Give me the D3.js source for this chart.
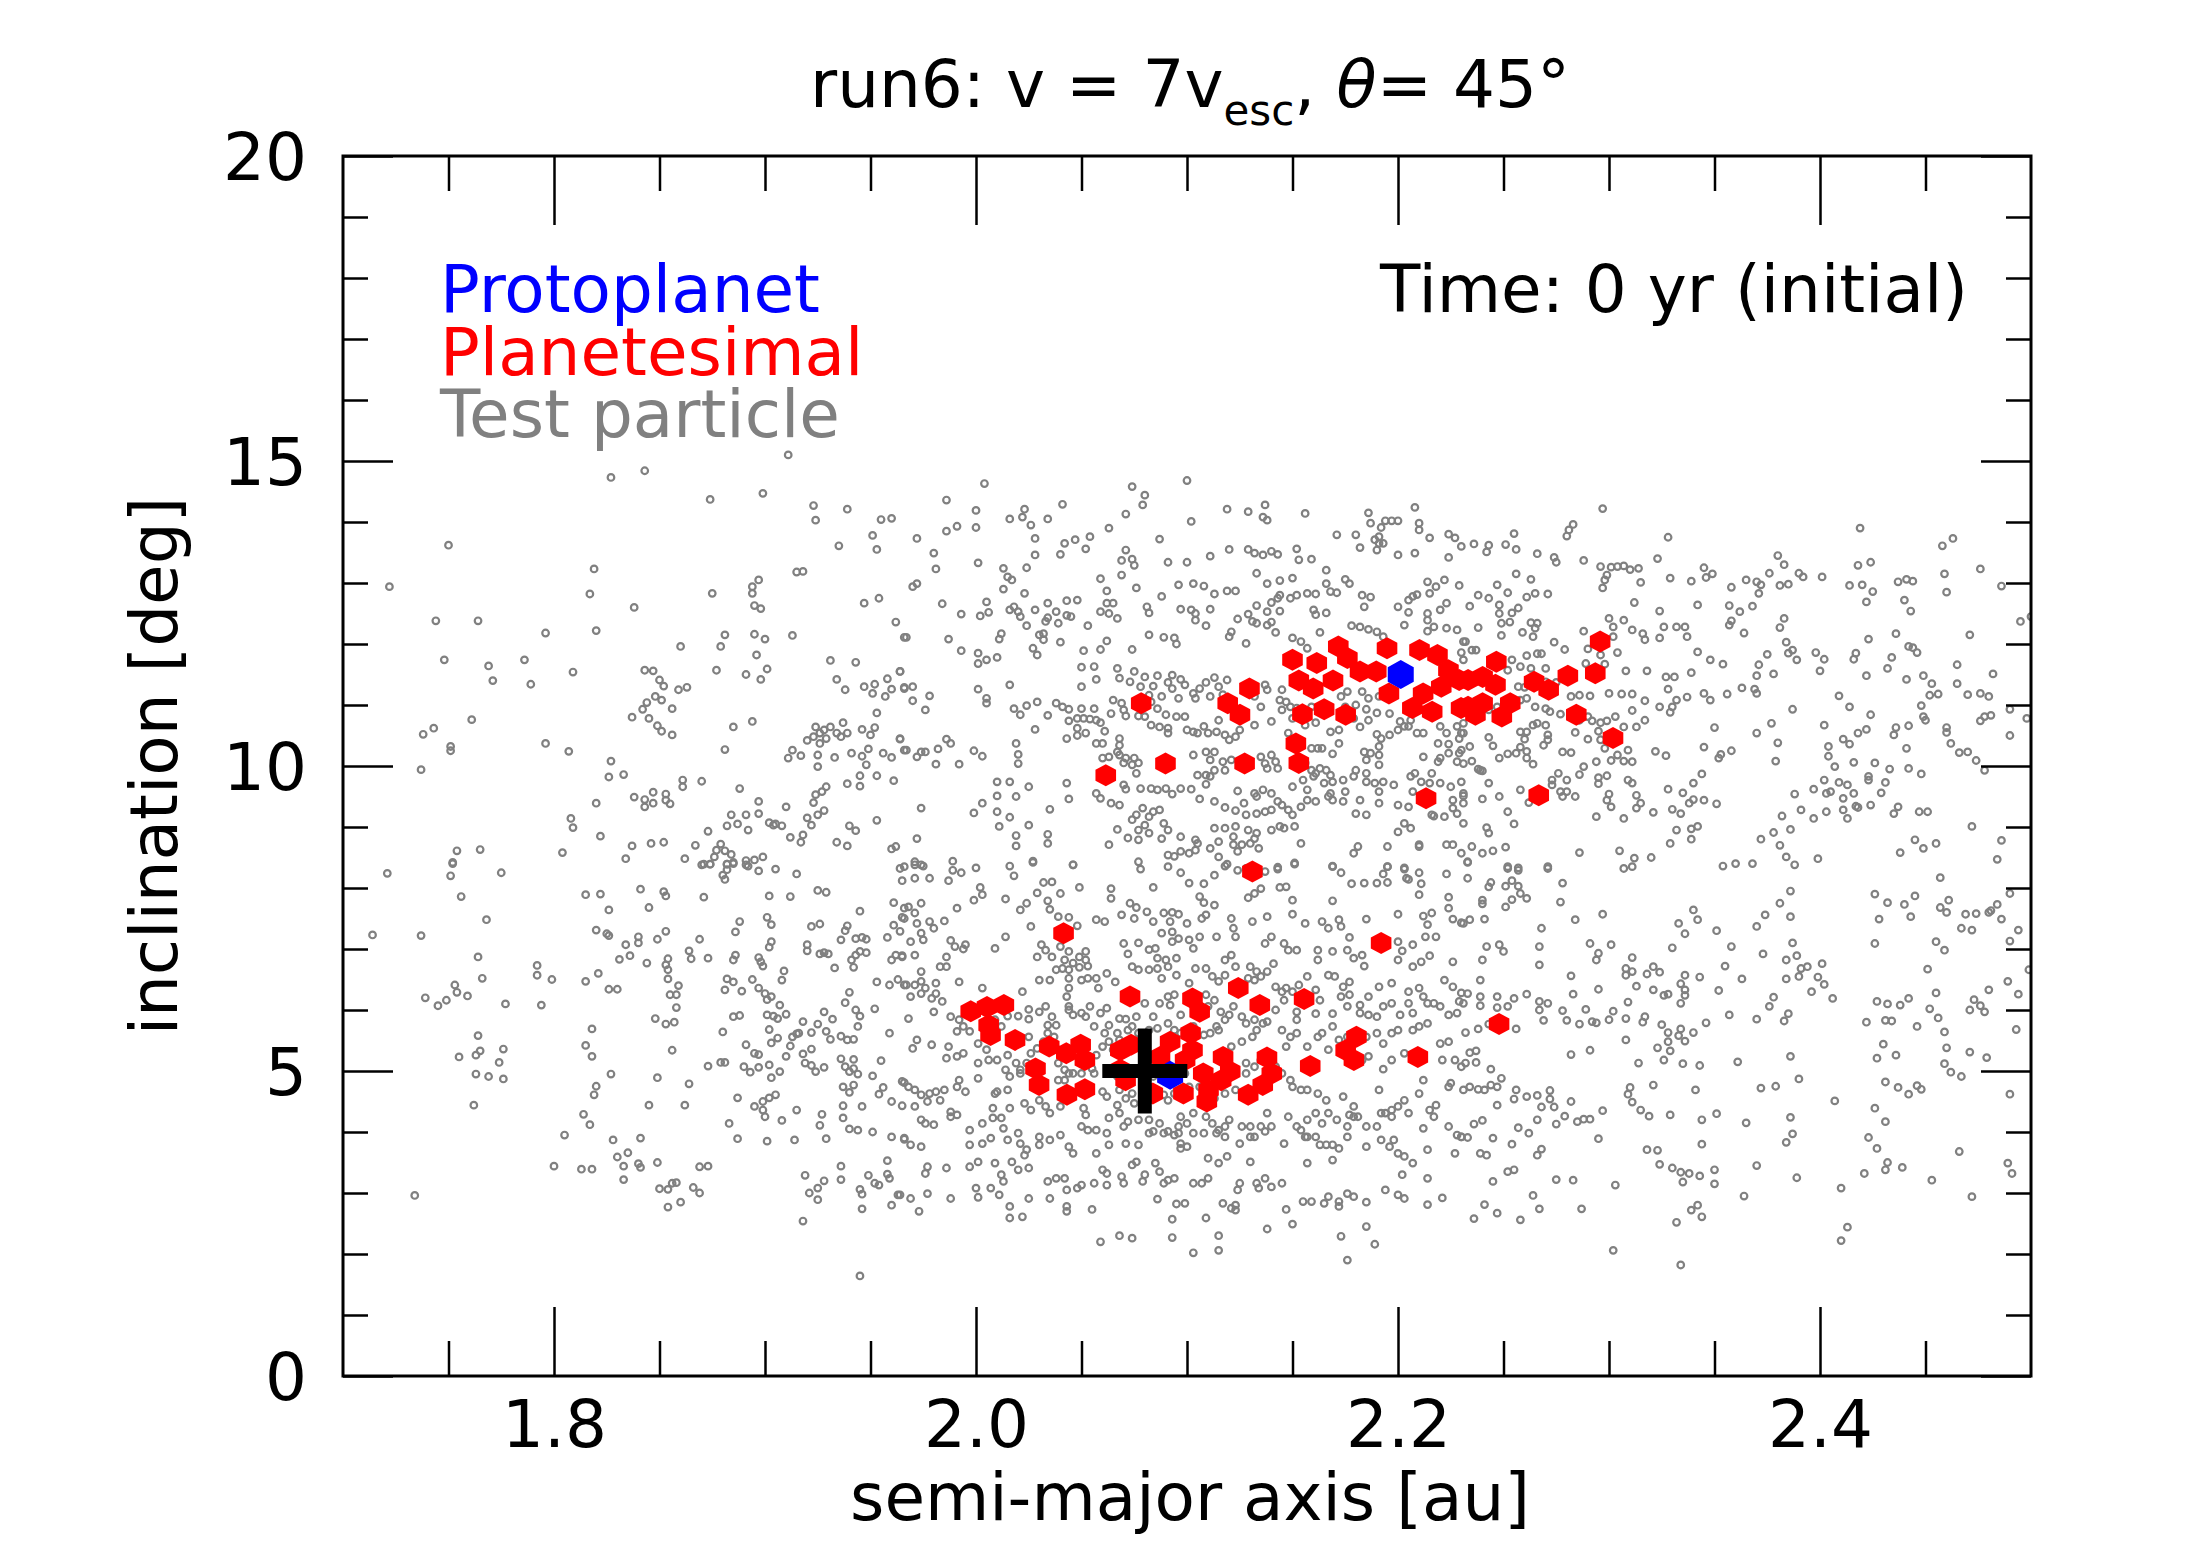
<!DOCTYPE html>
<html lang="en">
<head>
<meta charset="UTF-8">
<title>run6 inclination vs semi-major axis</title>
<script src="https://d3js.org/d3.v7.min.js"></script>
<style>
  body { margin: 0; background: #fff; }
  svg text { font-family: "DejaVu Sans", sans-serif; }
</style>
</head>
<body>
<svg id="chart" width="2188" height="1563"></svg>
<script>
// ---- data: [semi-major axis (au), inclination (deg)] ----
const xMajorTicks = [1.8, 2.0, 2.2, 2.4];
const yMajorTicks = [0, 5, 10, 15, 20];

const protoplanets = [[2.2013, 11.50], [2.092, 4.93]];
const impactPoint = [2.08, 5.0];

const planetesimals = [
  [2.0783,11.03],[2.1296,11.27],[2.1193,11.03],[2.1251,10.84],[2.150,11.74],[2.1615,11.69],[2.153,11.40],[2.1598,11.27],
  [2.1692,11.40],[2.1717,11.96],[2.176,11.77],[2.182,11.55],[2.1897,11.55],[2.1948,11.93],[2.1957,11.19],[2.2102,11.90],
  [2.2187,11.82],[2.2239,11.57],[2.2119,11.19],[2.2205,11.30],[2.2068,10.95],[2.2162,10.89],[2.2299,10.95],[2.229,11.41],
  [2.1547,10.85],[2.165,10.93],[2.1752,10.84],[2.1516,10.37],[2.153,10.05],[2.0615,9.85],[2.0898,10.04],[2.1273,10.04],
  [2.2133,9.47],[2.131,8.27],
  [2.2958,12.04],[2.2466,11.71],[2.2332,11.41],[2.2401,11.46],[2.2462,11.33],[2.2332,10.97],[2.2401,11.03],[2.2367,10.84],
  [2.2532,11.03],[2.2492,10.81],[2.2645,11.38],[2.2714,11.25],[2.2805,11.48],[2.2935,11.52],[2.2845,10.84],[2.3019,10.46],
  [2.2667,9.52],
  [2.0415,7.26],[2.192,7.10],[1.9975,5.98],[2.0052,6.05],[2.0132,6.08],[2.006,5.75],[2.0069,5.59],[2.0185,5.51],
  [2.0282,5.04],[2.0299,4.77],[2.0347,5.40],[2.0428,5.29],[2.0496,5.43],[2.0516,5.18],[2.0431,4.61],[2.0516,4.70],
  [2.073,6.22],[2.0684,5.34],[2.0735,5.43],[2.0684,5.02],[2.0709,4.85],[2.0872,5.23],[2.092,5.48],[2.0838,4.63],
  [2.1026,6.19],[2.106,5.97],[2.1017,5.62],[2.1026,5.34],[2.0991,5.18],[2.0983,4.63],[2.1077,4.96],[2.1102,4.69],
  [2.1094,4.50],[2.1171,5.23],[2.1205,4.99],[2.1162,4.85],[2.1243,6.36],[2.1345,6.08],[2.1379,5.22],[2.1402,4.96],
  [2.1359,4.77],[2.129,4.61],[2.1555,6.18],[2.1584,5.08],[2.1803,5.56],[2.1752,5.34],[2.1791,5.18],[2.2094,5.23],
  [2.2479,5.77]
];

const tpUpperLeft = [
  [1.911,15.10],[1.827,14.73],[1.843,14.84],[1.874,14.37],[1.899,14.47],[1.923,14.27],[1.939,14.21],[1.924,14.03],[1.955,14.04],[1.960,14.06],
  [1.750,13.62],[1.951,13.78],[1.935,13.61],[1.953,13.55],[1.819,13.23],[1.915,13.18],[1.918,13.19],[1.722,12.94],[1.897,13.05],[1.894,12.94],
  [1.894,12.83],[1.875,12.83],[1.817,12.82],[1.895,12.63],[1.898,12.58],[1.947,12.67],[1.954,12.75],[1.838,12.60],[1.744,12.38],[1.764,12.38],
  [1.796,12.18],[1.820,12.22],[1.962,12.36],[1.881,12.15],[1.895,12.16],[1.900,12.08],[1.913,12.14],[1.966,12.11],[1.860,11.96],[1.879,11.96],
  [1.896,11.82],[1.748,11.74],[1.769,11.64],[1.786,11.74],[1.931,11.73],[1.943,11.70],[1.771,11.40],[1.789,11.34],[1.809,11.54],[1.843,11.57],
  [1.847,11.56],[1.850,11.41],[1.852,11.31],[1.859,11.25],[1.863,11.29],[1.877,11.57],[1.891,11.50],[1.901,11.59],[1.898,11.42],[1.934,11.42],
  [1.938,11.25],[1.947,11.30],[1.952,11.34],[1.951,11.19],[1.958,11.43],[1.964,11.55],[1.960,11.26],[1.957,11.14],[1.966,11.27],[1.761,10.76],
  [1.738,10.52],[1.743,10.62],[1.751,10.32],[1.751,10.25],[1.796,10.37],[1.807,10.24],[1.837,10.80],[1.842,10.93],[1.844,11.04],[1.848,11.14],
  [1.851,11.08],[1.856,10.94],[1.845,10.78],[1.849,10.66],[1.851,10.57],[1.856,10.51],[1.885,10.64],[1.894,10.73],[1.881,10.27],[1.953,10.87],
  [1.924,10.64],[1.928,10.59],[1.931,10.64],[1.937,10.71],[1.923,10.48],[1.926,10.54],[1.929,10.45],[1.934,10.54],[1.936,10.48],[1.939,10.54],
  [1.920,10.42],[1.926,10.37],[1.946,10.60],[1.952,10.63],[1.950,10.51],[1.964,10.44],[1.966,10.26],[1.913,10.26],[1.911,10.13],[1.917,10.17],
  [1.925,10.18],[1.925,9.99],[1.933,10.14],[1.941,10.21],[1.946,10.16],[1.949,10.28],[1.948,10.02],[1.956,10.21],[1.960,10.14],[1.737,9.94],
  [1.827,10.08],[1.826,9.82],[1.833,9.86],[1.861,9.77],[1.861,9.66],[1.870,9.75],[1.888,9.63],[1.945,9.84],[1.945,9.67],[1.953,9.84],
  [1.961,9.76],[1.939,9.71],[1.929,9.66],[1.927,9.58],[1.924,9.53],[1.923,9.40],[1.838,9.49],[1.843,9.45],[1.847,9.57],[1.843,9.33],
  [1.847,9.39],[1.853,9.54],[1.853,9.44],[1.855,9.38],[1.820,9.39],[1.897,9.42],[1.897,9.22],[1.910,9.33],[1.928,9.27],[1.925,9.20],
  [1.920,9.15],[1.922,9.03],[1.953,9.11],[1.940,9.02],[1.943,8.94],[1.808,9.14],[1.809,8.99],[1.822,8.85],[1.873,8.93],[1.882,9.02],
  [1.887,9.05],[1.891,9.20],[1.884,9.20],[1.892,8.95],[1.902,9.07],[1.904,9.03],[1.905,9.05],[1.908,9.02],[1.912,8.83],[1.918,8.87],
  [1.917,8.75],[1.934,8.75],[1.939,8.69],[1.960,8.64],[1.962,8.68],[1.754,8.61],[1.765,8.63],[1.752,8.42],[1.804,8.58],[1.837,8.69],
  [1.846,8.73],[1.852,8.75],[1.834,8.48],[1.867,8.70],[1.862,8.48],[1.879,8.72],[1.877,8.62],[1.881,8.61],[1.884,8.55],[1.876,8.51],
  [1.871,8.39],[1.874,8.39],[1.882,8.39],[1.885,8.42],[1.891,8.45],[1.895,8.46],[1.899,8.51],[1.892,8.36],[1.964,8.32]
];

const tpLowerLeft = [
  [1.752,8.40],[1.721,8.24],[1.751,8.20],[1.775,8.25],[1.756,7.86],[1.768,7.48],[1.714,7.23],[1.737,7.22],[1.764,6.87],[1.766,6.52],
  [1.753,6.41],[1.754,6.29],[1.739,6.20],[1.745,6.07],[1.749,6.16],[1.759,6.23],[1.777,6.10],[1.792,6.73],[1.792,6.57],[1.799,6.50],
  [1.794,6.08],[1.764,5.58],[1.755,5.23],[1.763,5.26],[1.765,5.33],[1.776,5.36],[1.774,5.14],[1.763,4.95],[1.769,4.91],[1.776,4.87],
  [1.762,4.44],[1.734,2.96],
  [1.815,7.89],[1.822,7.90],[1.826,7.64],[1.841,7.98],[1.845,7.68],[1.852,7.94],[1.853,7.87],[1.871,7.85],[1.820,7.31],[1.825,7.25],
  [1.826,7.22],[1.834,7.07],[1.840,7.20],[1.840,7.10],[1.849,7.16],[1.853,7.29],[1.869,7.16],[1.864,6.97],[1.865,6.84],[1.873,6.85],
  [1.831,6.83],[1.836,6.89],[1.844,6.77],[1.854,6.84],[1.853,6.74],[1.854,6.66],[1.854,6.51],[1.815,6.47],[1.821,6.60],[1.826,6.34],
  [1.830,6.34],[1.859,6.40],[1.855,6.25],[1.858,6.25],[1.858,6.04],[1.848,5.86],[1.853,5.77],[1.857,5.80],[1.818,5.69],[1.815,5.42],
  [1.818,5.24],[1.856,5.34],[1.827,4.95],[1.849,4.89],[1.864,4.79],[1.820,4.75],[1.819,4.61],[1.845,4.44],[1.862,4.44],[1.814,4.29],
  [1.817,4.12],[1.805,3.95],[1.828,3.87],[1.841,3.90],[1.830,3.59],[1.835,3.66],[1.833,3.44],[1.840,3.48],[1.841,3.42],[1.849,3.50],
  [1.833,3.22],[1.800,3.44],[1.813,3.39],[1.818,3.39],[1.869,3.43],[1.873,3.44],[1.850,3.07],[1.854,3.06],[1.856,3.16],[1.858,3.17],
  [1.866,3.09],[1.869,3.00],[1.854,2.77],[1.860,2.85],
  [1.870,8.38],[1.874,8.39],[1.882,8.39],[1.885,8.40],[1.891,8.38],[1.897,8.28],[1.905,8.31],[1.915,8.23],[1.880,8.21],[1.881,8.14],
  [1.882,8.30],[1.902,7.87],[1.912,7.86],[1.925,7.96],[1.929,7.93],[1.945,7.62],[1.961,7.76],[1.966,7.67],[1.965,7.52],[1.961,7.39],
  [1.964,7.29],[1.958,7.19],[1.888,7.45],[1.886,7.28],[1.901,7.52],[1.903,7.40],[1.922,7.37],[1.926,7.41],[1.938,7.30],[1.939,7.38],
  [1.936,7.15],[1.943,7.17],[1.946,7.19],[1.948,7.16],[1.903,7.12],[1.902,7.03],[1.920,7.07],[1.920,6.97],[1.926,6.92],[1.928,6.94],
  [1.930,6.92],[1.886,6.90],[1.885,6.82],[1.897,6.86],[1.898,6.79],[1.899,6.72],[1.909,6.64],[1.908,6.49],[1.933,6.69],[1.941,6.82],
  [1.943,6.90],[1.945,6.96],[1.948,6.94],[1.942,6.70],[1.960,6.82],[1.962,6.90],[1.965,6.89],[1.882,6.51],[1.885,6.46],[1.894,6.50],
  [1.881,6.33],[1.889,6.31],[1.897,6.36],[1.900,6.27],[1.901,6.17],[1.903,6.22],[1.907,6.08],[1.940,6.29],[1.938,6.12],[1.943,6.00],
  [1.945,5.90],[1.952,6.02],[1.953,6.46],[1.959,6.41],[1.963,6.50],[1.966,6.41],[1.885,5.89],[1.888,5.91],[1.901,5.92],[1.904,5.90],
  [1.906,5.86],[1.910,5.93],[1.918,5.81],[1.925,5.77],[1.928,5.97],[1.932,5.85],[1.944,5.73],[1.880,5.64],[1.902,5.68],[1.903,5.46],
  [1.906,5.54],[1.912,5.41],[1.913,5.56],[1.915,5.61],[1.916,5.62],[1.922,5.63],[1.922,5.36],[1.929,5.65],[1.931,5.52],[1.936,5.57],
  [1.939,5.51],[1.942,5.52],[1.959,5.62],[1.891,5.43],[1.895,5.29],[1.897,5.27],[1.918,5.28],[1.919,5.13],[1.922,5.09],[1.924,4.99],
  [1.928,5.06],[1.910,5.24],[1.879,5.14],[1.881,5.14],[1.873,5.08],[1.890,5.07],[1.893,4.98],[1.897,5.06],[1.902,5.10],[1.903,4.89],
  [1.907,4.99],[1.936,5.20],[1.942,5.19],[1.938,5.07],[1.940,4.99],[1.942,5.04],[1.944,4.95],[1.955,5.17],[1.951,4.92],[1.966,4.81],
  [1.887,4.56],[1.895,4.42],[1.899,4.50],[1.902,4.56],[1.905,4.61],[1.899,4.36],[1.900,4.25],[1.908,4.19],[1.915,4.36],[1.927,4.29],
  [1.926,4.11],[1.937,4.43],[1.937,4.74],[1.942,4.77],[1.940,4.65],[1.946,4.42],[1.954,4.62],[1.956,4.73],[1.960,4.50],[1.965,4.43],
  [1.883,4.14],[1.887,3.89],[1.901,3.85],[1.914,3.87],[1.929,3.89],[1.937,4.23],[1.940,4.05],[1.944,4.03],[1.951,4.00],[1.960,3.92],
  [1.966,3.88],[1.919,3.29],[1.921,3.00],[1.925,3.08],[1.928,3.20],[1.925,2.89],[1.936,3.44],[1.936,3.22],[1.945,3.06],[1.946,2.98],
  [1.946,2.74],[1.949,3.29],[1.952,3.16],[1.954,3.13],[1.958,3.53],[1.958,3.31],[1.959,3.24],[1.963,2.97],[1.960,2.80],[1.918,2.54],
  [1.945,1.64]
];

const tpUpperMid = [
  [2.004,14.63],[1.986,14.36],[2.000,14.19],[2.000,13.91],[1.991,13.93],[1.986,13.85],[1.972,13.73],[1.980,13.49],[1.981,13.23],[2.001,13.33],
  [2.016,14.05],[2.023,14.21],[2.022,14.08],[2.026,13.95],[2.034,14.05],[2.028,13.73],[2.028,13.46],[2.041,14.29],[2.047,13.71],[2.042,13.65],
  [2.040,13.47],[2.054,13.76],[2.052,13.56],[2.063,13.90],[2.071,14.13],[2.074,14.58],[2.080,14.44],[2.079,14.28],[2.071,13.54],[2.069,13.37],
  [2.074,13.39],[2.075,13.29],[2.087,13.72],[2.091,13.34],[2.100,14.68],[2.102,14.01],[2.100,13.34],[2.111,13.44],[2.119,14.21],[2.129,14.17],
  [2.137,14.28],[2.136,14.08],[2.138,14.03],[2.120,13.55],[2.129,13.55],[2.132,13.49],[2.136,13.46],[2.140,13.52],[2.143,13.47],[2.152,13.56],
  [2.153,13.38],[2.159,13.39],[2.156,14.14],[2.171,13.79],[2.180,13.79],[2.186,14.15],[2.187,13.98],[2.192,13.91],[2.194,14.02],[2.197,14.02],
  [2.200,14.02],[2.182,13.58],[2.189,13.71],[2.191,13.76],[2.191,13.65],[2.190,13.54],[2.193,13.65],[2.200,13.46],[2.208,14.24],[2.210,13.98],
  [2.210,13.87],[2.208,13.49],[2.215,13.74],[2.224,13.80],[2.227,13.74],[2.230,13.60],[2.224,13.42],
  [2.013,13.24],[2.015,13.10],[2.017,13.05],[2.013,12.90],[2.023,12.83],[2.024,13.25],[2.005,12.69],[2.002,12.46],[2.006,12.52],[1.993,12.49],
  [1.984,12.66],[1.972,12.99],[1.970,12.94],[1.967,12.11],[1.987,12.08],[1.993,11.89],[2.001,11.85],[2.001,11.68],[2.005,11.74],[2.010,11.78],
  [2.012,12.17],[2.011,12.08],[2.016,12.56],[2.018,12.61],[2.020,12.53],[2.021,12.45],[2.024,12.30],[2.028,12.56],[2.034,12.67],[2.033,12.37],
  [2.038,12.53],[2.039,12.34],[2.043,12.47],[2.045,12.45],[2.043,12.71],[2.048,12.72],[2.034,12.43],[2.030,12.15],[2.032,12.07],[2.032,12.17],
  [2.027,11.93],[2.029,11.82],[2.040,12.03],[2.053,12.30],[2.059,12.53],[2.062,12.67],[2.065,12.67],[2.063,12.50],[2.067,12.42],[2.051,11.89],
  [2.059,11.91],[2.062,12.05],[2.076,12.92],[2.069,13.13],[2.059,13.07],[2.062,12.87],[2.081,12.61],[2.082,12.51],[2.088,12.78],[2.096,12.97],
  [2.103,12.99],[2.108,12.95],[2.113,12.82],[2.119,12.87],[2.123,12.87],[2.097,12.57],[2.102,12.56],[2.104,12.50],[2.111,12.57],[2.104,12.39],
  [2.109,12.30],[2.082,12.15],[2.089,12.11],[2.094,12.10],[2.095,12.00],[2.074,11.91],[2.133,13.16],[2.138,12.99],[2.144,13.04],[2.150,13.08],
  [2.144,12.80],[2.143,12.75],[2.140,12.68],[2.138,12.53],[2.144,12.54],[2.149,12.75],[2.152,12.80],[2.157,12.83],[2.161,12.82],[2.166,12.99],
  [2.168,12.86],[2.171,12.84],[2.166,13.21],[2.175,13.06],[2.177,12.99],[2.183,12.80],[2.187,12.77],[2.184,12.61],[2.160,12.56],[2.161,12.48],
  [2.166,12.51],[2.133,12.63],[2.124,12.41],[2.129,12.49],[2.131,12.37],[2.133,12.34],[2.140,12.36],[2.138,12.31],[2.142,12.19],[2.128,12.01],
  [2.120,12.12],[2.121,12.20],[2.150,12.10],[2.154,12.04],[2.157,11.93],[2.163,12.19],[2.178,12.30],[2.182,12.28],[2.186,12.24],[2.190,12.20],
  [2.193,12.12],[2.203,12.31],[2.205,12.72],[2.207,12.78],[2.209,12.81],[2.215,12.83],[2.218,12.94],[2.214,13.02],[2.222,13.05],[2.229,12.96],
  [2.200,12.61],[2.205,12.52],[2.214,12.50],[2.214,12.39],[2.214,12.21],[2.217,12.28],[2.223,12.26],[2.228,12.23],[2.220,12.56],[2.223,12.67],
  [2.231,12.04],[2.230,11.86],
  [1.964,11.55],[1.966,11.29],[1.970,11.30],[1.970,11.07],[1.976,10.92],[1.978,11.15],[1.964,10.45],[1.967,10.26],[1.972,10.15],[1.974,10.23],
  [1.976,10.23],[1.982,10.28],[1.986,10.44],[1.988,10.37],[1.981,10.03],[1.992,10.03],[1.999,10.25],[2.003,10.16],[2.001,11.26],[2.005,11.11],
  [2.005,11.03],[2.016,11.33],[2.018,10.94],[2.021,10.84],[2.024,10.99],[2.029,11.05],[2.028,10.60],[2.034,10.83],[2.038,11.03],[2.041,10.97],
  [2.044,10.93],[2.044,10.74],[2.048,10.78],[2.050,10.94],[2.051,10.78],[2.054,10.77],[2.056,10.94],[2.057,10.75],[2.059,10.71],[2.061,10.57],
  [2.048,10.62],[2.052,10.54],[2.043,10.45],[2.048,10.50],[2.019,10.37],[2.020,10.19],[2.020,10.04],[2.057,10.37],[2.060,10.37],[2.068,10.45],
  [2.068,10.34],[2.067,10.23],[2.060,10.13],[2.063,10.15],[2.068,10.18],[2.071,10.13],[2.075,10.13],[2.077,10.05],[2.070,10.05],[2.074,10.02],
  [2.076,9.88],[2.050,11.62],[2.056,11.63],[2.057,11.42],[2.050,11.30],[2.067,11.60],[2.068,11.44],[2.073,11.38],[2.075,11.55],[2.078,11.30],
  [2.080,11.46],[2.084,11.31],[2.082,11.16],[2.086,11.48],[2.091,11.37],[2.093,11.49],[2.097,11.42],[2.099,11.33],[2.093,11.27],[2.096,11.11],
  [2.088,11.14],[2.103,11.19],[2.104,11.11],[2.106,11.27],[2.109,11.37],[2.113,11.45],[2.115,11.30],[2.119,11.41],[2.117,11.17],[2.111,11.14],
  [2.065,11.08],[2.069,11.03],[2.070,10.92],[2.064,10.86],[2.071,10.82],[2.078,10.97],[2.083,11.05],[2.086,10.94],[2.090,10.84],[2.077,10.82],
  [2.080,10.81],[2.083,10.67],[2.087,10.64],[2.091,10.62],[2.091,10.54],[2.095,10.81],[2.099,10.81],[2.100,10.59],[2.103,10.56],[2.105,10.54],
  [2.110,10.54],[2.108,10.65],[2.114,10.56],[2.115,10.75],[2.118,10.51],[2.125,10.59],[2.123,10.48],[2.120,10.43],[2.132,10.67],[2.140,10.73],
  [2.145,10.92],[2.135,10.97],[2.132,11.14],[2.137,11.33],[2.138,11.25],[2.145,11.25],[2.144,11.08],[2.147,11.05],[2.149,10.97],[2.152,10.95],
  [2.159,10.97],[2.150,10.78],[2.156,10.67],[2.161,10.71],[2.148,10.54],[2.159,10.29],[2.162,10.29],[2.164,10.29],[2.169,10.20],[2.172,10.37],
  [2.168,10.56],[2.172,10.59],[2.179,10.78],[2.182,10.64],[2.186,10.75],[2.180,11.00],[2.185,10.93],[2.190,10.87],[2.186,11.11],[2.191,11.14],
  [2.183,11.22],[2.176,11.22],[2.173,11.14],[2.175,10.97],[2.191,10.18],[2.187,10.21],[2.184,10.23],[2.185,10.10],[2.191,10.02],[2.191,10.32],
  [2.190,10.52],[2.192,10.45],[2.196,10.51],[2.200,10.59],[2.203,10.65],[2.196,10.86],[2.201,10.73],[2.206,10.75],[2.205,10.65],[2.209,10.54],
  [2.212,10.54],[2.220,10.65],[2.223,10.54],[2.228,10.65],[2.231,10.54],[2.229,10.21],[2.224,10.21],[2.220,10.13],[2.219,10.37],[2.224,10.36],
  [2.229,10.45],[2.212,10.15],[2.219,10.07],[2.228,10.07],
  [2.103,10.18],[2.109,10.23],[2.111,10.10],[2.113,10.23],[2.117,10.07],[2.118,9.93],[2.121,10.10],[2.113,9.93],[2.109,9.85],[2.105,9.85],
  [2.111,9.83],[2.135,10.15],[2.140,10.18],[2.137,10.04],[2.142,10.07],[2.143,9.96],[2.138,9.96],[2.156,10.05],[2.159,9.93],[2.161,9.88],
  [2.163,9.96],[2.166,9.93],[2.168,9.85],[2.160,9.83],[2.155,9.77],[2.150,9.66],[2.157,9.61],[2.165,9.72],[2.168,9.55],[2.169,9.74],
  [2.175,9.58],[2.174,9.77],[2.179,9.83],[2.180,9.93],[2.185,9.88],[2.189,9.72],[2.193,9.74],[2.198,9.69],[2.185,9.74],[2.191,9.58],
  [2.206,9.83],[2.208,9.88],[2.211,9.74],[2.215,9.72],[2.216,9.88],[2.207,9.58],[2.220,9.72],[2.225,9.66],[2.230,9.74],[2.231,9.55],
  [2.226,9.44],[2.226,9.31],[2.217,9.18],[2.222,9.17],[2.228,9.22],[2.231,9.06],
  [2.010,9.74],[2.016,9.74],[2.025,9.66],[2.010,9.51],[2.019,9.50],[2.043,9.72],[2.044,9.46],[2.057,9.55],[2.059,9.47],[2.064,9.39],
  [2.068,9.36],[2.070,9.69],[2.071,9.62],[2.078,9.63],[2.083,9.63],[2.086,9.61],[2.090,9.63],[2.093,9.54],[2.097,9.63],[2.102,9.62],
  [2.106,9.46],[2.109,9.70],[2.113,9.42],[2.118,9.32],[2.124,9.59],[2.127,9.39],[2.132,9.55],[2.133,9.50],[2.136,9.61],[2.140,9.55],
  [2.143,9.42],[2.145,9.36],[2.140,9.28],[2.137,9.25],[2.133,9.22],[2.128,9.20],[2.123,9.27],[2.148,9.28],[2.150,9.20],[2.154,9.33],
  [2.157,9.44],[2.161,9.42],[2.167,9.50],[2.169,9.44],[2.174,9.42],[2.180,9.22],[2.185,9.20],[2.182,9.44],[2.191,9.39],[2.200,9.36],
  [2.205,9.33],[2.203,9.06],[2.200,8.92],[2.206,8.98],[2.210,8.68],[2.216,9.20],[2.195,8.68],[2.181,8.68],[2.179,8.57],[2.154,8.73],
  [2.144,9.01],[2.146,8.98],[2.151,9.01],[2.140,8.95],[2.133,8.90],[2.129,8.95],[2.123,9.01],[2.118,8.98],[2.113,8.98],[2.122,8.84],
  [2.126,8.71],[2.130,8.73],[2.134,8.65],[2.132,8.81],[2.122,8.71],[2.124,8.60],[2.115,8.76],[2.111,8.65],[2.104,8.79],[2.104,8.62],
  [2.101,8.57],[2.097,8.60],[2.094,8.52],[2.091,8.54],[2.088,8.81],[2.089,9.06],[2.091,8.95],[2.082,8.90],[2.080,9.03],[2.076,9.20],
  [2.074,9.12],[2.077,8.95],[2.072,8.82],[2.077,8.79],[2.082,9.17],[2.084,9.25],[2.087,9.28],[2.079,9.31],[2.067,8.96],[2.063,8.71],
  [2.097,8.84],[2.105,8.73],[2.115,8.51],[1.974,9.31],[1.972,8.81],[1.999,9.23],[2.003,9.39],[2.010,9.25],[2.011,9.01],[2.016,9.16],
  [2.025,9.03],[2.019,8.86],[2.019,8.69],[2.034,8.88],[2.034,8.73],[2.035,9.29],[1.989,8.44],[1.971,8.43],[1.974,8.38],[2.027,8.44],
  [2.046,8.38],[2.077,8.43],[2.151,8.41],[2.169,8.35],[2.143,8.34],[2.119,8.39],[2.195,8.35],[2.203,8.33],[2.223,8.71],[2.226,8.71],
  [2.230,8.57],[2.210,8.71]
];

const tpLowerMid = [
  [1.966,8.35],[1.971,8.38],[1.975,8.36],[1.965,8.12],[1.971,8.16],[1.978,8.16],[1.989,8.29],[1.993,8.25],[1.987,8.12],[2.000,8.33],
  [2.016,8.36],[2.018,8.20],[2.027,8.42],[2.032,8.09],[2.036,8.10],[2.046,8.38],[2.049,8.01],[2.064,7.99],[2.078,8.31],[2.084,8.01],
  [2.091,8.35],[2.097,8.25],[2.101,8.08],[2.108,8.07],[2.113,8.21],[2.118,8.36],[2.124,8.29],[2.128,8.32],[2.143,8.31],[2.151,8.39],
  [2.169,8.36],[2.173,8.25],[2.178,8.07],[2.184,8.08],[2.190,8.08],[2.193,8.23],[2.195,8.35],[2.195,8.09],[2.203,8.31],[2.205,8.14],
  [2.210,8.25],[2.211,8.07],[2.210,7.89],[2.223,8.23],[2.137,8.27],[2.144,8.01],[2.147,8.02],
  [1.968,7.69],[1.974,7.75],[1.971,7.59],[1.966,7.50],[1.972,7.42],[1.978,7.45],[1.980,7.34],[1.985,7.46],[1.991,7.67],[1.999,7.80],
  [2.002,8.01],[2.003,7.89],[2.014,7.82],[2.021,7.64],[2.024,7.75],[2.029,7.92],[2.034,7.79],[2.035,7.65],[2.040,7.91],[2.039,7.53],
  [2.044,7.52],[2.048,7.38],[2.057,7.48],[2.061,7.45],[2.064,7.83],[2.069,7.56],[2.073,7.75],[2.076,7.68],[2.075,7.50],[2.081,7.61],
  [2.084,7.45],[2.089,7.59],[2.093,7.60],[2.096,7.57],[2.092,7.45],[2.100,7.42],[2.106,7.86],[2.108,7.76],[2.113,7.72],[2.107,7.50],
  [2.109,7.56],[2.121,7.50],[2.122,7.34],[2.129,7.84],[2.132,7.91],[2.135,7.99],[2.131,7.45],[2.138,7.53],[2.150,7.80],[2.150,7.57],
  [2.156,7.42],[2.164,7.45],[2.167,7.34],[2.172,7.48],[2.169,7.79],[2.173,7.37],[2.185,7.49],[2.200,7.57],[2.204,8.16],[2.212,7.54],
  [2.216,7.59],[2.214,7.40],[2.224,7.85],[2.224,7.67],[2.226,7.49],[2.230,7.43],
  [1.969,7.12],[1.965,6.87],[1.971,6.90],[1.974,7.26],[1.975,7.15],[1.988,7.14],[1.990,7.04],[1.995,7.07],[1.994,7.00],[1.986,6.87],
  [1.983,6.71],[1.986,6.71],[2.009,7.01],[2.014,7.20],[2.026,7.37],[2.031,7.07],[2.033,6.98],[2.029,6.87],[2.036,6.87],[2.040,7.04],
  [2.044,6.96],[2.049,6.87],[2.052,6.96],[2.042,6.82],[2.046,6.77],[2.052,6.82],[2.041,6.68],[2.044,6.66],[2.049,6.70],[2.053,6.72],
  [2.070,7.09],[2.072,6.92],[2.077,7.10],[2.082,6.99],[2.085,7.01],[2.088,7.26],[2.093,7.28],[2.096,7.17],[2.093,7.12],[2.086,6.85],
  [2.090,6.82],[2.095,6.85],[2.101,7.15],[2.103,7.01],[2.106,7.20],[2.114,7.20],[2.123,7.20],[2.121,6.90],[2.118,6.82],[2.137,7.09],
  [2.140,7.20],[2.146,7.09],[2.148,6.98],[2.152,6.98],[2.162,6.98],[2.169,6.96],[2.176,6.98],[2.179,6.85],[2.183,6.90],[2.162,6.82],
  [2.177,7.19],[2.200,7.12],[2.202,6.97],[2.207,7.07],[2.213,7.20],[2.218,7.20],[2.215,6.89],[2.211,6.79],[2.207,6.71],[2.200,6.82],
  [2.184,6.72],[2.226,6.79],
  [1.967,6.41],[1.971,6.41],[1.974,6.47],[1.976,6.36],[1.981,6.44],[1.974,6.63],[1.992,6.46],[2.003,6.36],[2.022,6.30],[2.030,6.49],
  [2.035,6.49],[2.038,6.66],[2.044,6.52],[2.044,6.36],[2.050,6.49],[2.053,6.52],[2.057,6.52],[2.062,6.60],[2.066,6.46],[2.058,6.36],
  [2.074,6.71],[2.077,6.66],[2.082,6.66],[2.086,6.68],[2.091,6.71],[2.088,6.52],[2.095,6.57],[2.101,6.44],[2.104,6.68],[2.109,6.68],
  [2.112,6.55],[2.115,6.47],[2.118,6.57],[2.123,6.71],[2.130,6.71],[2.133,6.63],[2.135,6.55],[2.138,6.63],[2.141,6.76],[2.129,6.52],
  [2.132,6.49],[2.142,6.38],[2.145,6.30],[2.147,6.36],[2.150,6.30],[2.153,6.41],[2.157,6.55],[2.161,6.33],[2.167,6.57],[2.170,6.55],
  [2.174,6.38],[2.177,6.46],[2.177,6.25],[2.186,6.22],[2.191,6.38],[2.197,6.44],[2.205,6.30],[2.210,6.36],[2.212,6.22],[2.222,6.49],
  [2.226,6.38],[2.230,6.28],
  [1.968,5.86],[1.969,6.22],[1.974,6.27],[1.979,6.19],[1.981,6.27],[1.984,6.14],[1.980,5.97],[1.988,5.89],[1.992,5.84],[1.994,5.73],
  [1.991,5.65],[1.997,5.65],[2.009,5.84],[2.012,5.73],[2.015,5.90],[2.020,5.90],[2.025,6.01],[2.025,5.85],[2.030,5.97],[2.033,6.06],
  [2.036,5.89],[2.038,5.75],[2.034,5.75],[2.043,6.22],[2.044,6.06],[2.044,6.00],[2.046,5.92],[2.050,5.95],[2.052,5.89],[2.054,6.06],
  [2.056,5.73],[2.059,5.95],[2.062,6.03],[2.063,5.75],[2.068,5.86],[2.071,5.85],[2.074,5.73],[2.076,5.89],[2.080,6.11],[2.084,5.89],
  [2.087,6.11],[2.091,6.22],[2.094,6.25],[2.092,6.08],[2.097,5.92],[2.109,6.25],[2.113,6.16],[2.110,6.06],[2.116,5.97],[2.120,5.92],
  [2.122,6.06],[2.118,5.84],[2.114,5.73],[2.126,5.89],[2.128,5.78],[2.132,5.84],[2.138,5.81],[2.142,6.00],[2.146,6.16],[2.152,5.97],
  [2.152,5.84],[2.163,6.16],[2.161,5.94],[2.169,5.94],[2.173,6.22],[2.176,6.06],[2.182,6.08],[2.182,5.95],[2.186,5.92],[2.190,5.89],
  [2.193,6.06],[2.197,6.11],[2.201,5.92],[2.205,6.11],[2.207,5.95],[2.214,6.11],[2.217,6.11],[2.220,6.06],[2.224,5.92],[2.228,5.95],
  [2.229,6.14],
  [1.972,5.51],[1.970,5.37],[1.979,5.43],[1.987,5.40],[1.986,5.21],[1.991,5.24],[1.994,5.29],[2.001,5.45],[2.001,5.13],[2.005,5.35],
  [2.006,5.18],[2.010,5.18],[2.015,5.26],[2.025,5.56],[2.026,5.29],[2.029,5.37],[2.019,5.13],[2.024,5.13],[2.021,5.02],[2.034,5.62],
  [2.037,5.56],[2.032,5.48],[2.038,5.37],[2.039,5.13],[2.042,5.02],[2.044,4.96],[2.050,4.96],[2.053,5.18],[2.055,5.04],[2.057,5.26],
  [2.061,5.62],[2.063,5.48],[2.060,5.40],[2.065,5.35],[2.067,5.62],[2.068,5.51],[2.072,5.67],[2.077,5.62],[2.082,5.67],[2.086,5.70],
  [2.091,5.78],[2.094,5.67],[2.097,5.62],[2.103,5.73],[2.108,5.59],[2.111,5.62],[2.115,5.67],[2.121,5.40],[2.126,5.48],[2.131,5.56],
  [2.133,5.67],[2.136,5.78],[2.145,5.67],[2.149,5.56],[2.147,5.40],[2.152,5.62],[2.157,5.40],[2.162,5.56],[2.164,5.62],[2.169,5.73],
  [2.172,5.51],[2.167,5.35],[2.176,5.56],[2.185,5.56],[2.186,5.24],[2.183,5.18],[2.190,5.62],[2.193,5.45],[2.197,5.62],[2.200,5.67],
  [2.203,5.29],[2.207,5.67],[2.210,5.73],[2.214,5.78],[2.220,5.45],[2.224,5.48],[2.221,5.18],[2.227,5.18],[2.230,5.07],[2.197,5.18],
  [2.193,5.03],
  [1.965,4.83],[1.968,4.74],[1.971,4.69],[1.974,4.61],[1.978,4.63],[1.981,4.66],[1.985,4.69],[1.983,4.52],[1.977,4.50],[1.971,4.42],
  [1.991,4.74],[1.992,4.85],[1.995,4.66],[2.001,4.88],[2.009,4.63],[2.010,4.66],[2.015,4.69],[2.014,5.02],[2.016,4.91],[2.021,4.96],
  [2.039,4.85],[2.042,4.85],[2.046,4.96],[2.056,4.96],[2.060,4.66],[2.062,4.58],[2.067,4.91],[2.068,4.69],[2.067,4.44],[2.071,4.55],
  [2.074,4.63],[2.075,4.47],[2.079,4.96],[2.084,4.91],[2.089,4.61],[2.091,4.52],[2.094,4.91],[2.094,4.63],[2.099,4.96],[2.101,4.74],
  [2.106,4.74],[2.111,4.69],[2.113,4.55],[2.118,4.63],[2.123,4.69],[2.128,4.96],[2.132,5.07],[2.128,5.13],[2.135,5.18],[2.142,5.07],
  [2.145,4.96],[2.149,4.85],[2.150,4.74],[2.154,4.69],[2.157,4.69],[2.162,4.63],[2.166,4.52],[2.174,4.58],[2.177,4.28],[2.179,4.42],
  [2.191,4.69],[2.194,4.31],[2.197,4.36],[2.200,4.42],[2.203,4.52],[2.210,4.63],[2.212,4.85],[2.215,4.36],[2.218,4.44],[2.224,4.74],
  [2.225,4.80],[2.231,4.69],
  [1.974,4.20],[1.976,4.14],[1.980,4.12],[1.988,4.25],[1.991,4.28],[1.988,4.33],[1.997,4.03],[2.003,4.14],[2.008,4.39],[2.008,4.23],
  [2.012,4.23],[2.013,4.06],[2.016,4.39],[2.023,4.47],[2.026,4.36],[2.030,4.52],[2.033,4.42],[2.035,4.31],[2.040,4.42],[2.051,4.39],
  [2.052,4.28],[2.050,4.09],[2.053,4.03],[2.057,4.03],[2.062,3.98],[2.063,4.23],[2.068,4.31],[2.070,4.09],[2.072,4.17],[2.077,4.20],
  [2.082,4.20],[2.084,4.01],[2.087,4.14],[2.091,4.01],[2.094,3.95],[2.096,4.09],[2.097,4.25],[2.100,4.14],[2.103,4.31],[2.109,4.25],
  [2.112,4.14],[2.115,4.03],[2.118,4.09],[2.120,4.20],[2.126,4.09],[2.130,4.09],[2.135,4.09],[2.140,4.09],[2.138,4.31],[2.148,4.25],
  [2.152,4.09],[2.156,3.92],[2.157,4.20],[2.161,4.31],[2.164,4.14],[2.167,4.31],[2.171,4.20],[2.176,4.09],[2.179,4.25],[2.181,4.25],
  [2.185,4.09],[2.190,4.09],[2.192,4.31],[2.197,4.25],[2.205,4.31],[2.212,4.06],[2.217,4.25],[2.224,4.09],[2.228,3.95],
  [1.966,3.90],[1.969,3.79],[1.974,3.76],[1.997,3.79],[2.003,3.81],[2.007,3.90],[2.015,3.87],[2.020,3.98],[2.021,3.81],[2.024,3.71],
  [2.030,3.92],[2.030,3.79],[2.035,3.87],[2.040,3.95],[2.044,3.76],[2.046,3.65],[2.057,3.65],[2.063,3.79],[2.071,3.81],[2.077,3.79],
  [2.082,3.98],[2.089,3.98],[2.096,3.98],[2.097,3.81],[2.097,3.73],[2.100,3.76],[2.103,3.98],[2.108,3.98],[2.114,3.98],[2.118,3.92],
  [2.125,3.81],[2.130,3.92],[2.132,3.92],[2.137,4.01],[2.146,3.81],[2.154,4.03],[2.157,3.92],[2.161,3.92],[2.163,3.79],[2.166,3.79],
  [2.169,3.79],[2.172,3.73],[2.176,3.92],[2.185,3.76],[2.192,3.87],[2.196,3.76],[2.198,3.87],[2.200,3.65],[2.203,3.60],[2.207,3.49],
  [2.214,3.71],[2.227,3.65],[2.230,3.92],
  [1.977,3.43],[1.976,3.32],[1.986,3.41],[1.997,3.43],[2.001,3.51],[2.009,3.49],[2.012,3.30],[2.013,3.19],[2.017,3.51],[2.020,3.38],
  [2.023,3.62],[2.025,3.41],[2.034,3.19],[2.038,3.24],[2.042,3.24],[2.043,3.05],[2.048,3.08],[2.050,3.13],[2.056,3.16],[2.060,3.38],
  [2.062,3.32],[2.062,3.13],[2.069,3.27],[2.070,3.16],[2.074,3.46],[2.076,3.51],[2.080,3.30],[2.079,3.19],[2.085,3.49],[2.087,3.35],
  [2.091,3.21],[2.089,3.16],[2.094,3.24],[2.103,3.16],[2.107,3.16],[2.110,3.24],[2.110,3.57],[2.115,3.49],[2.119,3.60],[2.125,3.16],
  [2.124,3.05],[2.130,3.51],[2.133,3.16],[2.134,3.08],[2.137,3.24],[2.140,3.10],[2.145,3.16],[2.157,3.49],[2.169,3.54],[2.202,3.30],
  [2.214,3.24],
  [1.964,2.97],[1.969,2.91],[1.977,2.99],[1.988,2.91],[2.000,3.08],[2.001,2.93],[2.007,3.08],[2.011,2.97],[2.016,2.78],[2.022,2.61],
  [2.016,2.59],[2.025,2.91],[2.035,2.91],[2.043,2.78],[2.043,2.70],[2.055,2.73],[2.086,2.90],[2.095,2.82],[2.099,2.83],[2.117,2.83],
  [2.121,2.75],[2.123,2.80],[2.123,2.72],[2.147,2.73],[2.155,2.86],[2.159,2.86],[2.165,2.83],[2.167,2.94],[2.172,2.86],[2.176,2.99],
  [2.179,2.94],[2.185,2.85],[2.194,3.05],[2.200,2.97],[2.203,2.91],[2.214,2.81],[2.221,2.92],[2.172,2.78],[2.093,2.57],[2.109,2.59],
  [2.138,2.41],[2.150,2.49],[2.185,2.45],[1.973,2.70],[2.059,2.20],[2.068,2.30],[2.074,2.26],[2.093,2.27],[2.115,2.30],[2.103,2.02],
  [2.115,2.06],[2.173,2.29],[2.189,2.16],[2.176,1.90]
];

const tpUpperRight = [
  [2.297,14.22],[2.283,13.96],[2.281,13.87],[2.280,13.77],[2.255,13.81],[2.236,13.64],[2.243,13.62],[2.242,13.51],[2.251,13.63],[2.256,13.55],
  [2.266,13.48],[2.274,13.42],[2.275,13.34],[2.288,13.37],[2.296,13.27],[2.301,13.26],[2.304,13.27],[2.307,13.28],[2.310,13.22],[2.314,13.24],
  [2.328,13.75],[2.323,13.40],[2.256,13.15],[2.263,13.06],[2.247,12.97],[2.252,12.84],[2.238,12.80],[2.243,12.75],[2.265,12.83],[2.271,12.82],
  [2.261,12.77],[2.248,12.64],[2.234,12.62],[2.248,12.50],[2.254,12.51],[2.257,12.59],[2.298,13.05],[2.297,12.92],[2.299,13.13],[2.315,13.01],
  [2.329,13.08],[2.339,13.03],[2.345,13.25],[2.346,13.09],[2.349,13.15],[2.358,12.93],[2.365,13.05],[2.370,13.02],[2.372,12.97],[2.371,12.83],
  [2.380,13.45],[2.383,13.30],[2.376,13.16],[2.381,12.96],[2.385,12.98],[2.390,13.16],[2.392,13.10],[2.401,13.10],[2.419,13.90],[2.418,13.29],
  [2.424,13.34],[2.414,12.96],[2.420,12.97],[2.425,12.86],[2.422,12.69],[2.463,13.73],[2.458,13.61],[2.459,13.15],[2.460,12.85],[2.476,13.23],
  [2.486,12.95],[2.437,13.02],[2.441,13.06],[2.444,13.03],[2.440,12.72],[2.443,12.54],[2.495,12.37],[2.500,12.45],[2.471,12.15],[2.436,12.17],
  [2.423,12.08],[2.442,11.96],[2.444,11.94],[2.446,11.86],[2.434,11.78],[2.432,11.60],[2.441,11.42],[2.449,11.48],[2.453,11.35],[2.452,11.16],
  [2.456,11.18],[2.465,11.66],[2.465,11.35],[2.470,11.17],[2.476,11.19],[2.480,11.14],[2.482,11.51],[2.490,10.93],[2.498,10.78],[2.490,10.50],
  [2.476,10.74],[2.478,10.81],[2.481,10.83],[2.448,10.99],[2.449,10.81],[2.450,10.75],[2.460,10.63],[2.460,10.55],[2.462,10.37],[2.466,10.22],
  [2.470,10.23],[2.474,10.09],[2.478,9.93],[2.442,10.66],[2.436,10.63],[2.435,10.51],[2.441,10.29],[2.442,9.96],[2.448,9.87],[2.433,9.95],
  [2.426,10.05],[2.423,9.83],[2.423,9.77],[2.431,9.73],[2.429,9.56],[2.437,9.33],[2.435,9.22],[2.447,9.25],[2.451,9.25],[2.424,9.36],
  [2.418,9.32],[2.417,9.34],[2.411,9.47],[2.416,9.55],[2.413,9.69],[2.409,9.73],[2.405,9.58],[2.403,9.55],[2.402,9.77],[2.397,9.62],
  [2.411,9.28],[2.413,9.14],[2.403,9.25],[2.397,9.14],[2.391,9.28],[2.388,9.54],[2.407,9.99],[2.404,10.32],[2.404,10.16],[2.411,10.44],
  [2.414,10.36],[2.418,10.54],[2.422,10.60],[2.416,10.06],[2.424,10.84],[2.414,10.97],[2.409,11.15],[2.402,10.67],[2.400,11.56],[2.398,11.86],
  [2.402,11.75],[2.417,11.85],[2.416,11.75],[2.422,11.48],[2.387,10.93],[2.380,10.38],[2.379,10.08],[2.377,10.70],[2.370,10.54],[2.370,11.19],
  [2.369,11.26],[2.363,11.28],[2.356,11.18],[2.350,10.63],[2.353,10.19],[2.352,10.13],[2.358,10.25],[2.345,10.31],[2.371,11.66],[2.370,11.48],
  [2.378,11.51],[2.375,11.83],[2.385,11.85],[2.387,11.90],[2.389,11.74],[2.384,12.03],[2.381,12.27],[2.383,12.42],[2.364,12.18],[2.357,12.31],
  [2.358,12.38],[2.357,12.63],[2.362,12.53],[2.368,12.62],[2.342,12.64],[2.348,11.74],[2.354,11.67],[2.342,11.87],[2.337,12.12],[2.336,12.28],
  [2.332,12.28],[2.326,12.28],[2.324,12.10],[2.324,12.54],[2.316,12.17],[2.317,12.07],[2.311,12.23],[2.312,12.68],[2.307,12.39],[2.300,12.42],
  [2.302,12.28],[2.302,12.12],[2.304,11.86],[2.298,11.67],[2.296,11.82],[2.290,11.92],[2.288,12.21],[2.289,11.68],[2.279,11.91],[2.274,12.03],
  [2.270,11.60],[2.266,11.84],[2.268,11.84],[2.261,11.81],[2.259,12.19],[2.265,12.26],[2.266,12.34],[2.263,12.35],[2.264,12.12],[2.249,12.14],
  [2.249,12.34],[2.253,12.36],[2.238,12.27],[2.232,12.04],[2.235,11.90],[2.237,11.90],[2.231,11.74],[2.254,11.74],[2.252,11.57],[2.258,11.63],
  [2.263,11.60],[2.264,11.41],[2.270,11.38],[2.275,11.37],[2.260,11.29],[2.257,11.30],[2.282,11.14],[2.286,11.16],[2.291,11.15],[2.300,11.19],
  [2.306,11.18],[2.311,11.18],[2.317,11.07],[2.324,10.97],[2.330,10.97],[2.332,11.08],[2.337,11.13],[2.329,10.88],[2.331,11.46],[2.327,11.46],
  [2.328,11.26],[2.339,11.53],[2.318,11.56],[2.308,11.56],[2.345,11.19],[2.348,11.08],[2.311,10.91],[2.317,10.75],[2.313,10.64],[2.307,10.64],
  [2.303,10.81],[2.299,10.74],[2.296,10.71],[2.292,10.74],[2.290,10.81],[2.286,10.75],[2.282,10.86],[2.277,10.85],[2.272,10.89],[2.270,10.94],
  [2.265,10.97],[2.261,11.11],[2.258,11.08],[2.254,10.97],[2.251,10.91],[2.247,10.97],[2.243,10.92],[2.231,10.70],[2.230,10.54],[2.230,10.26],
  [2.234,10.32],[2.231,10.04],[2.235,10.08],[2.238,9.95],[2.240,9.92],[2.243,10.47],[2.245,10.33],[2.248,10.13],[2.252,10.20],[2.256,10.21],
  [2.258,10.31],[2.260,10.44],[2.261,10.56],[2.264,10.67],[2.258,10.56],[2.261,10.24],[2.261,10.13],[2.264,10.03],[2.271,10.51],[2.271,10.43],
  [2.269,10.34],[2.270,10.67],[2.266,10.70],[2.278,10.23],[2.282,10.22],[2.284,10.55],[2.290,10.44],[2.295,10.57],[2.296,10.43],[2.298,10.29],
  [2.301,10.09],[2.304,10.18],[2.309,10.26],[2.307,10.08],[2.311,10.07],[2.294,10.07],[2.288,9.99],[2.286,9.86],[2.280,9.77],[2.276,9.88],
  [2.273,9.77],[2.273,9.69],[2.277,9.58],[2.280,9.58],[2.284,9.50],[2.278,9.50],[2.295,9.81],[2.299,9.84],[2.295,9.71],[2.300,9.54],
  [2.299,9.44],[2.301,9.33],[2.309,9.77],[2.311,9.72],[2.313,9.52],[2.315,9.39],[2.313,9.31],[2.321,9.24],[2.322,10.24],[2.327,10.17],
  [2.328,9.62],[2.335,9.56],[2.340,9.72],[2.344,9.87],[2.340,9.45],[2.338,9.39],[2.345,9.44],[2.351,9.38],[2.330,9.29],[2.334,9.22],
  [2.332,8.95],[2.339,8.97],[2.342,9.01],[2.339,8.80],[2.329,8.73],[2.320,8.50],[2.312,8.49],[2.305,8.61],[2.286,8.58],[2.307,8.32],
  [2.311,8.35],[2.294,9.17],[2.307,9.14],[2.262,9.40],[2.258,9.61],[2.252,9.25],[2.255,9.05],[2.242,8.99],[2.243,8.90],[2.248,9.50],
  [2.240,9.46],[2.231,9.51],[2.231,9.39],[2.243,9.72],[2.239,9.93],[2.235,8.68],[2.240,8.57],[2.245,8.61],[2.251,8.67],[2.252,8.35],
  [2.257,8.33],[2.271,8.35],[2.233,8.43],[2.354,8.36],[2.360,8.40],[2.368,8.40],[2.372,8.80],[2.378,8.91],[2.381,8.70],[2.384,8.51],
  [2.386,8.96],[2.382,9.18],[2.388,8.38],[2.399,8.48],[2.438,8.58],[2.445,8.79],[2.449,8.65],[2.455,8.73],[2.472,9.01],[2.486,8.78],
  [2.484,8.47]
];

const tpLowerRight = [
  [2.233,8.42],[2.233,8.16],[2.243,8.02],[2.244,8.09],[2.251,8.03],[2.254,8.12],[2.257,8.03],[2.252,8.32],[2.257,8.29],[2.271,8.32],
  [2.278,8.08],[2.277,7.77],[2.258,7.91],[2.261,7.83],[2.254,7.81],[2.251,7.69],[2.240,7.80],[2.240,7.74],[2.241,7.49],[2.234,7.48],
  [2.231,7.42],[2.268,7.34],[2.284,7.48],[2.297,7.57],[2.242,7.04],[2.248,7.07],[2.250,6.96],[2.240,6.82],[2.267,7.04],[2.267,6.74],
  [2.239,6.49],[2.233,6.27],[2.239,6.22],[2.239,6.07],[2.247,6.22],[2.247,6.04],[2.252,6.06],[2.255,6.19],[2.261,6.26],[2.231,6.11],
  [2.267,6.14],[2.271,6.11],[2.267,6.00],[2.269,5.83],[2.256,5.69],[2.243,5.77],[2.238,5.69],[2.232,5.63],[2.278,5.99],[2.280,5.83],
  [2.286,5.77],[2.289,6.01],[2.292,5.81],[2.294,5.79],[2.300,5.84],[2.302,5.98],[2.282,6.56],[2.283,6.26],[2.291,7.09],[2.295,6.93],
  [2.294,6.82],[2.301,7.07],[2.295,6.34],[2.309,6.13],[2.308,5.86],[2.317,5.89],[2.316,5.80],[2.308,5.51],[2.325,5.76],[2.311,6.86],
  [2.308,6.68],[2.311,6.63],[2.308,6.57],[2.318,6.59],[2.321,6.71],[2.324,6.62],[2.313,6.39],[2.321,6.33],[2.326,6.24],[2.328,6.26],
  [2.336,6.57],[2.334,6.43],[2.336,6.33],[2.336,6.24],[2.334,6.11],[2.343,6.54],[2.330,7.02],[2.336,7.25],[2.333,7.42],[2.340,7.64],
  [2.342,7.48],[2.351,7.30],[2.358,7.04],[2.355,6.72],[2.352,6.32],[2.363,6.51],[2.370,7.37],[2.374,7.56],[2.381,7.75],[2.386,7.95],
  [2.386,7.53],[2.373,6.92],[2.384,6.82],[2.389,6.89],[2.387,7.10],[2.391,6.68],[2.394,6.71],[2.401,6.76],[2.390,6.55],[2.384,6.51],
  [2.399,6.54],[2.402,6.42],[2.396,6.30],[2.406,6.19],[2.378,6.21],[2.376,6.06],[2.385,5.94],[2.383,5.82],[2.370,5.85],[2.357,5.92],
  [2.346,5.79],[2.340,5.63],[2.334,5.69],[2.333,5.58],[2.328,5.63],[2.336,5.49],[2.328,5.48],[2.323,5.38],[2.329,5.33],[2.326,5.18],
  [2.314,5.13],[2.335,5.12],[2.343,5.09],[2.361,5.15],[2.386,5.24],[2.426,7.09],[2.426,7.90],[2.432,7.76],[2.440,7.73],[2.445,7.87],
  [2.443,7.53],[2.428,7.49],[2.457,8.17],[2.457,7.68],[2.461,7.80],[2.460,7.60],[2.467,7.34],[2.472,7.31],[2.469,7.57],[2.474,7.58],
  [2.480,7.60],[2.481,7.63],[2.484,7.73],[2.486,7.49],[2.490,7.91],[2.494,7.31],[2.490,7.13],[2.455,7.12],[2.459,6.98],[2.451,6.67],
  [2.455,6.28],[2.452,6.02],[2.456,5.87],[2.427,6.14],[2.432,6.10],[2.438,6.08],[2.442,6.19],[2.422,5.80],[2.431,5.83],[2.434,5.82],
  [2.446,5.73],[2.459,5.64],[2.460,5.38],[2.430,5.44],[2.427,5.21],[2.436,5.26],[2.459,5.12],[2.462,4.98],[2.467,4.91],[2.471,5.31],
  [2.479,5.22],[2.471,6.00],[2.473,6.17],[2.476,6.07],[2.478,5.97],[2.480,6.33],[2.489,6.47],[2.494,6.26],[2.493,5.68],[2.499,6.66],
  [2.431,4.82],[2.437,4.73],[2.442,4.62],[2.446,4.76],[2.448,4.70],[2.407,4.51],[2.426,4.39],[2.431,4.17],[2.423,3.91],[2.427,3.73],
  [2.432,3.50],[2.431,3.38],[2.439,3.42],[2.421,3.32],[2.453,3.21],[2.466,3.68],[2.490,4.62],[2.489,3.49],[2.491,3.32],[2.472,2.94],
  [2.410,3.08],[2.413,2.44],[2.410,2.22],[2.389,3.25],[2.387,3.97],[2.384,3.83],[2.386,4.24],[2.390,4.87],[2.379,4.75],[2.372,4.72],
  [2.365,4.15],[2.370,3.45],[2.364,2.95],[2.350,3.38],[2.350,3.15],[2.344,3.80],[2.344,4.20],[2.351,4.30],[2.341,4.69],[2.329,4.28],
  [2.319,4.26],[2.315,4.36],[2.310,4.73],[2.309,4.62],[2.311,4.49],[2.321,4.77],[2.318,3.71],[2.323,3.70],[2.324,3.47],[2.330,3.41],
  [2.334,3.34],[2.338,3.32],[2.343,3.28],[2.335,3.18],[2.303,3.13],[2.297,4.35],[2.295,3.89],[2.285,4.17],[2.288,4.21],[2.291,4.21],
  [2.279,4.26],[2.275,4.13],[2.266,4.20],[2.257,4.07],[2.262,3.98],[2.254,3.80],[2.245,3.90],[2.240,4.19],[2.236,4.13],[2.233,3.91],
  [2.230,3.92],[2.239,3.65],[2.242,3.62],[2.266,3.62],[2.268,3.72],[2.252,3.35],[2.255,3.38],[2.245,3.19],[2.275,3.22],[2.283,3.21],
  [2.264,2.96],[2.267,2.74],[2.287,2.74],[2.241,2.81],[2.247,2.67],[2.236,2.58],[2.258,2.56],[2.302,2.06],[2.332,2.52],[2.334,1.82],
  [2.339,2.72],[2.342,2.80],[2.344,2.61],[2.234,4.74],[2.238,4.70],[2.241,4.69],[2.244,4.77],[2.247,4.74],[2.256,4.69],[2.255,4.54],
  [2.261,4.58],[2.266,4.60],[2.272,4.68],[2.272,4.54],[2.274,4.41],[2.268,4.41],[2.282,4.50],[2.247,4.44],[2.232,5.13],[2.237,5.14],
  [2.234,5.30],[2.237,5.33],[2.244,5.03],[2.249,4.88],[2.282,5.27],[2.291,5.34]
];

const testParticles = [].concat(tpUpperLeft, tpLowerLeft, tpUpperMid, tpLowerMid, tpUpperRight, tpLowerRight);

// ---- layout ----
const width = 2188, height = 1563;
const plot = {left: 343, right: 2031, top: 156, bottom: 1376};
const fontFamily = "DejaVu Sans";

const svg = d3.select("#chart");
svg.append("rect").attr("width", width).attr("height", height).attr("fill", "#fff");

const x = d3.scaleLinear().domain([1.7, 2.5]).range([plot.left, plot.right]);
const y = d3.scaleLinear().domain([0, 20]).range([plot.bottom, plot.top]);

svg.append("clipPath").attr("id", "plot-clip")
  .append("rect")
  .attr("x", plot.left).attr("y", plot.top)
  .attr("width", plot.right - plot.left).attr("height", plot.bottom - plot.top);

const marks = svg.append("g").attr("clip-path", "url(#plot-clip)");

// test particles: small open rings
marks.append("g").selectAll("circle")
  .data(testParticles)
  .join("circle")
  .attr("cx", d => x(d[0]))
  .attr("cy", d => y(d[1]))
  .attr("r", 3.3)
  .attr("fill", "none")
  .attr("stroke", "#808080")
  .attr("stroke-width", 2.2);

// filled hexagon markers
function hexagon(w, h) {
  return `M0,${-h}L${w},${-h / 2}L${w},${h / 2}L0,${h}L${-w},${h / 2}L${-w},${-h / 2}Z`;
}

marks.append("g").selectAll("path")
  .data(planetesimals)
  .join("path")
  .attr("d", hexagon(10.3, 11))
  .attr("transform", d => `translate(${x(d[0])},${y(d[1])})`)
  .attr("fill", "#ff0000");

marks.append("g").selectAll("path")
  .data(protoplanets)
  .join("path")
  .attr("d", hexagon(13, 14.5))
  .attr("transform", d => `translate(${x(d[0])},${y(d[1])})`)
  .attr("fill", "#0000ff");

// impact point cross
const cross = marks.append("g")
  .attr("transform", `translate(${x(impactPoint[0])},${y(impactPoint[1])})`)
  .attr("stroke", "#000").attr("stroke-width", 14);
cross.append("line").attr("x1", -42.5).attr("x2", 42.5).attr("y1", 0).attr("y2", 0);
cross.append("line").attr("x1", 0).attr("x2", 0).attr("y1", -42.5).attr("y2", 42.5);

// ---- axes (ticks point inward on all four sides) ----
const xMinorTicks = d3.range(35, 50).filter(k => k % 4 !== 0).map(k => k / 20);
const yMinorTicks = d3.range(1, 20).filter(v => v % 5 !== 0);

function styleAxis(g) {
  g.select(".domain").remove();
  g.attr("font-family", fontFamily).attr("font-size", 66);
  g.selectAll("line").attr("stroke", "#000").attr("stroke-width", 2.5);
  g.selectAll("text").attr("fill", "#000");
}

svg.append("g").attr("transform", `translate(0,${plot.bottom})`)
  .call(d3.axisBottom(x).tickValues(xMajorTicks).tickSize(-69).tickPadding(24).tickFormat(d3.format(".1f")))
  .call(styleAxis);
svg.append("g").attr("transform", `translate(0,${plot.bottom})`)
  .call(d3.axisBottom(x).tickValues(xMinorTicks).tickSize(-35).tickFormat(""))
  .call(styleAxis);
svg.append("g").attr("transform", `translate(0,${plot.top})`)
  .call(d3.axisTop(x).tickValues(xMajorTicks).tickSize(-69).tickFormat(""))
  .call(styleAxis);
svg.append("g").attr("transform", `translate(0,${plot.top})`)
  .call(d3.axisTop(x).tickValues(xMinorTicks).tickSize(-35).tickFormat(""))
  .call(styleAxis);

svg.append("g").attr("transform", `translate(${plot.left},0)`)
  .call(d3.axisLeft(y).tickValues(yMajorTicks).tickSize(-50).tickPadding(36).tickFormat(d3.format("d")))
  .call(styleAxis)
  .call(g => g.selectAll("text").attr("dy", "0.36em"));
svg.append("g").attr("transform", `translate(${plot.left},0)`)
  .call(d3.axisLeft(y).tickValues(yMinorTicks).tickSize(-25).tickFormat(""))
  .call(styleAxis);
svg.append("g").attr("transform", `translate(${plot.right},0)`)
  .call(d3.axisRight(y).tickValues(yMajorTicks).tickSize(-50).tickFormat(""))
  .call(styleAxis);
svg.append("g").attr("transform", `translate(${plot.right},0)`)
  .call(d3.axisRight(y).tickValues(yMinorTicks).tickSize(-25).tickFormat(""))
  .call(styleAxis);

// frame
svg.append("rect")
  .attr("x", plot.left).attr("y", plot.top)
  .attr("width", plot.right - plot.left).attr("height", plot.bottom - plot.top)
  .attr("fill", "none").attr("stroke", "#000").attr("stroke-width", 3);

// ---- labels ----
svg.append("text")
  .attr("x", 1190).attr("y", 1520)
  .attr("text-anchor", "middle").attr("font-size", 66)
  .text("semi-major axis [au]");

svg.append("text")
  .attr("transform", `translate(177,${(plot.top + plot.bottom) / 2}) rotate(-90)`)
  .attr("text-anchor", "middle").attr("font-size", 66)
  .text("inclination [deg]");

const title = svg.append("text")
  .attr("x", 1190).attr("y", 107)
  .attr("text-anchor", "middle").attr("font-size", 66);
title.append("tspan").text("run6: v = 7v");
title.append("tspan").attr("dy", 18).attr("font-size", 42).text("esc");
title.append("tspan").attr("dy", -18).text(", ");
title.append("tspan").attr("font-style", "italic").text("\u03b8");
title.append("tspan").text("= 45\u00b0");

svg.append("text")
  .attr("x", 1968).attr("y", 312)
  .attr("text-anchor", "end").attr("font-size", 66)
  .text("Time: 0 yr (initial)");

const legend = [
  {label: "Protoplanet", color: "#0000ff"},
  {label: "Planetesimal", color: "#ff0000"},
  {label: "Test particle", color: "#808080"}
];
svg.append("g").selectAll("text")
  .data(legend)
  .join("text")
  .attr("x", 440)
  .attr("y", (d, i) => 312 + i * 62.5)
  .attr("font-size", 66)
  .attr("fill", d => d.color)
  .text(d => d.label);
</script>
</body>
</html>
